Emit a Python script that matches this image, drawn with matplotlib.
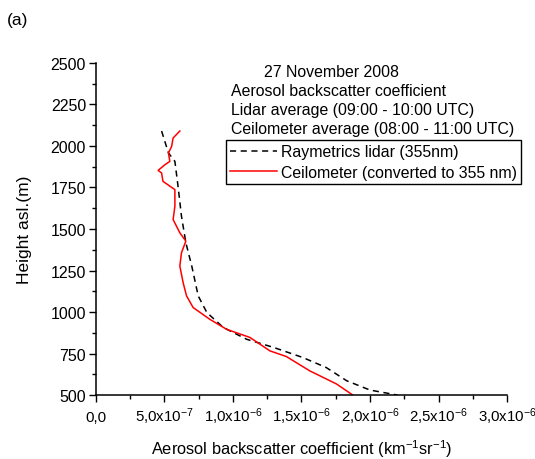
import matplotlib
matplotlib.use('Agg')
import matplotlib.pyplot as plt
from matplotlib.ticker import MultipleLocator, FixedLocator

plt.rcParams['font.family'] = ['Liberation Sans', 'DejaVu Sans']
plt.rcParams['mathtext.fontset'] = 'custom'
plt.rcParams['mathtext.rm'] = 'Liberation Sans'
plt.rcParams['mathtext.it'] = 'Liberation Sans'

# lidar profile (height m, backscatter in 1e-6 km-1 sr-1)
lidar_h = [2090, 1958, 1907, 1757, 1577, 1417, 1277, 1097, 997, 907,
           836, 786, 726, 666, 586, 530, 500]
lidar_b = [0.48, 0.53, 0.577, 0.60, 0.625, 0.657, 0.70, 0.747, 0.81, 0.93,
           1.10, 1.30, 1.51, 1.68, 1.83, 2.00, 2.20]

# ceilometer profile converted to 355 nm
ceil_h = [2090, 2048, 1997, 1958, 1907, 1887, 1853, 1837, 1787, 1737,
          1637, 1557, 1477, 1427, 1357, 1277, 1177, 1097, 1027, 956,
          896, 847, 766, 732, 646, 566, 500]
ceil_b = [0.613, 0.564, 0.553, 0.53, 0.54, 0.504, 0.455, 0.48, 0.49, 0.577,
          0.577, 0.564, 0.613, 0.657, 0.625, 0.613, 0.637, 0.662, 0.71, 0.832,
          0.954, 1.124, 1.27, 1.39, 1.56, 1.757, 1.874]

xticks = [0, 0.5, 1.0, 1.5, 2.0, 2.5, 3.0]
xlabels = ['0,0', r'5,0x10$^{-7}$', r'1,0x10$^{-6}$', r'1,5x10$^{-6}$',
           r'2,0x10$^{-6}$', r'2,5x10$^{-6}$', r'3,0x10$^{-6}$']
yticks = [500, 750, 1000, 1250, 1500, 1750, 2000, 2250, 2500]

fig = plt.figure(figsize=(5.35, 4.6), dpi=100)
ax = fig.add_axes([0.179, 0.139, 0.769, 0.722])

ax.plot(lidar_b, lidar_h, color='black', lw=1.1, ls=(0, (4, 3)),
        label='Raymetrics lidar (355nm)')
ax.plot(ceil_b, ceil_h, color='red', lw=1.1,
        label='Ceilometer (converted to 355 nm)')

ax.set_xlim(0, 3.0)
ax.set_ylim(500, 2500)
ax.xaxis.set_major_locator(FixedLocator(xticks))
ax.set_xticklabels(xlabels)
ax.xaxis.set_minor_locator(MultipleLocator(0.25))
ax.set_yticks(yticks)
ax.yaxis.set_minor_locator(MultipleLocator(125))
ax.tick_params(which='major', direction='out', length=5, width=1)
ax.tick_params(which='minor', direction='out', length=3, width=1)
ax.tick_params(axis='x', labelsize=10.8, pad=13.5)
ax.tick_params(axis='y', labelsize=11.5, pad=2)
# keep all x tick labels on one baseline
for lab in ax.get_xticklabels():
    lab.set_va('baseline')
for s in ['top', 'right']:
    ax.spines[s].set_visible(False)
for s in ['left', 'bottom']:
    ax.spines[s].set_linewidth(1.1)

ax.set_xlabel(r'Aerosol backscatter coefficient (km$^{-1}$sr$^{-1}$)', fontsize=11.8)
ax.xaxis.set_label_coords(0.5, -0.127)
ax.set_ylabel('Height asl.(m)', fontsize=12.5)
ax.yaxis.set_label_coords(-0.155, 0.5)

fs = 11.4
fig.text(0.62, 0.843, '27 November 2008', ha='center', va='center', fontsize=fs)
fig.text(0.432, 0.802, 'Aerosol backscatter coefficient', ha='left', va='center', fontsize=fs)
fig.text(0.432, 0.760, 'Lidar average (09:00 - 10:00 UTC)', ha='left', va='center', fontsize=fs)
fig.text(0.432, 0.719, 'Ceilometer average (08:00 - 11:00 UTC)', ha='left', va='center', fontsize=fs)

leg = ax.legend(loc='upper left', bbox_to_anchor=(0.422, 0.693),
                bbox_transform=fig.transFigure, fontsize=fs, frameon=True,
                fancybox=False, edgecolor='black', framealpha=1,
                handlelength=3.0, handletextpad=0.25, borderpad=0.25,
                labelspacing=0.35, borderaxespad=0)
leg.get_frame().set_linewidth(1.0)

fig.text(0.013, 0.955, '(a)', fontsize=12.5, ha='left', va='center')

fig.savefig('out.png', dpi=100)
